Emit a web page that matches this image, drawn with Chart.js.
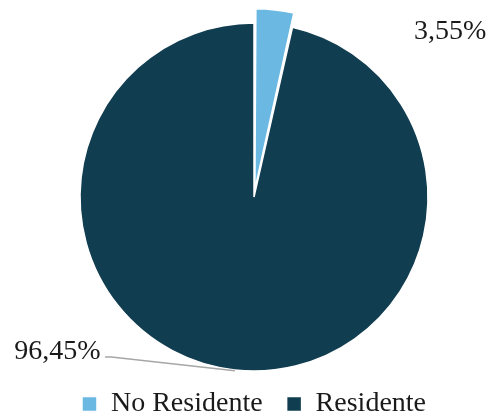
<!DOCTYPE html>
<html>
<head>
<meta charset="utf-8">
<script src="https://cdn.jsdelivr.net/npm/chart.js@4.4.0/dist/chart.umd.min.js"></script>
<style>
  html, body { margin: 0; padding: 0; background: #fff; }
  #wrap { width: 495px; height: 417px; }
</style>
</head>
<body>
<div id="wrap"><canvas id="pieResidencia" width="495" height="417"></canvas></div>
<script>
// datos
var categorias = ['No Residente', 'Residente'];
var valores = [3.55, 96.45];
var etiquetas = ['3,55%', '96,45%'];
var colores = ['#6BB9E2', '#113D50'];

var serif = "'Liberation Serif', 'DejaVu Serif', serif";

// etiquetas de datos a mano, como en Excel
var labelPlugin = {
	id: 'labelPlugin',
	afterDatasetsDraw: function(chart) {
		var ctx = chart.ctx;
		var arcs = chart.getDatasetMeta(0).data;
		var a1 = arcs[1];
		var r = a1.outerRadius;
		ctx.save();
		ctx.fillStyle = '#1a1a1a';
		ctx.font = '28px ' + serif;
		ctx.textBaseline = 'middle';
		ctx.textAlign = 'center';
		ctx.fillText(etiquetas[0], a1.x + r * 1.128, a1.y - r * 0.95);
		ctx.fillText(etiquetas[1], a1.x - r * 1.13, a1.y + r * 0.89);

		// linea guia
		ctx.strokeStyle = '#a6a6a6';
		ctx.lineWidth = 1.5;
		ctx.beginPath();
		ctx.moveTo(a1.x - r * 0.856, a1.y + r * 0.92);
		ctx.lineTo(a1.x - r * 0.82, a1.y + r * 0.92);
		ctx.lineTo(a1.x - r * 0.11, a1.y + r * 0.998);
		ctx.stroke();
		ctx.restore();
	}
};

var ctx1 = document.getElementById('pieResidencia').getContext('2d');
window.myPie = new Chart(ctx1, {
	type: 'pie',
	data: {
		labels: categorias,
		datasets: [{
			data: valores,
			backgroundColor: colores,
			borderColor: '#ffffff',
			borderWidth: 1.5,
			offset: [32, 0]
		}]
	},
	options: {
		responsive: false,
		animation: false,
		radius: 174,
		layout: {
			padding: { left: 13, right: 0, top: 28, bottom: -11 }
		},
		plugins: {
			legend: {
				display: true,
				position: 'bottom',
				labels: {
					color: '#1a1a1a',
					boxWidth: 15,
					boxHeight: 15,
					padding: 24,
					font: { family: serif, size: 28 }
				}
			},
			tooltip: { enabled: false }
		}
	},
	plugins: [labelPlugin]
});
</script>
</body>
</html>
